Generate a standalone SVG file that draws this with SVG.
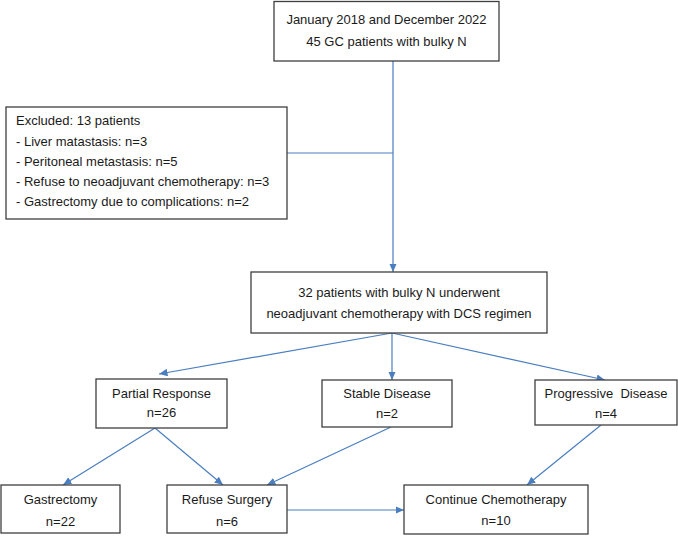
<svg xmlns="http://www.w3.org/2000/svg" width="678" height="536" viewBox="0 0 678 536">
<style>
.box{fill:#ffffff;stroke:#3f3f3f;stroke-width:1.3}
.t{font-family:"Liberation Sans",Arial,sans-serif;font-size:13px;fill:#1a1a1a;text-anchor:middle}
.tl{font-family:"Liberation Sans",Arial,sans-serif;font-size:13px;fill:#1a1a1a;text-anchor:start}
.c{fill:none;stroke:#4a7ebf;stroke-width:1.2}
</style>
<defs>
<marker id="ah" markerUnits="userSpaceOnUse" markerWidth="9" markerHeight="8" refX="8.5" refY="3.75" orient="auto">
<path d="M0,0 L8.5,3.75 L0,7.5 z" fill="#4a7ebf"/>
</marker>
</defs>
<rect width="678" height="536" fill="#ffffff"/>
<g id="connectors">
<line class="c" x1="393" y1="61" x2="393" y2="272" marker-end="url(#ah)"/>
<line class="c" x1="287" y1="153" x2="393" y2="153"/>
<line class="c" x1="392" y1="333" x2="159" y2="374" marker-end="url(#ah)"/>
<line class="c" x1="392" y1="333" x2="392" y2="380" marker-end="url(#ah)"/>
<line class="c" x1="392" y1="333" x2="605" y2="380" marker-end="url(#ah)"/>
<line class="c" x1="155" y1="428" x2="63" y2="485" marker-end="url(#ah)"/>
<line class="c" x1="155" y1="428" x2="223" y2="485" marker-end="url(#ah)"/>
<line class="c" x1="391" y1="427" x2="267" y2="485" marker-end="url(#ah)"/>
<line class="c" x1="601" y1="425" x2="527" y2="485" marker-end="url(#ah)"/>
<line class="c" x1="287" y1="510" x2="404" y2="510" marker-end="url(#ah)"/>
</g>
<g id="start">
<rect class="box" x="274" y="1.5" width="225" height="59.5"/>
<text class="t" x="386.5" y="24">January 2018 and December 2022</text>
<text class="t" x="386.5" y="46">45 GC patients with bulky N</text>
</g>
<g id="excluded">
<rect class="box" x="6" y="107" width="281" height="112"/>
<text class="tl" x="16" y="125">Excluded: 13 patients</text>
<text class="tl" x="16" y="146">- Liver matastasis: n=3</text>
<text class="tl" x="16" y="166">- Peritoneal metastasis: n=5</text>
<text class="tl" x="16" y="186">- Refuse to neoadjuvant chemotherapy: n=3</text>
<text class="tl" x="16" y="206">- Gastrectomy due to complications: n=2</text>
</g>
<g id="neoadjuvant">
<rect class="box" x="251" y="272" width="296" height="61"/>
<text class="t" x="399" y="297">32 patients with bulky N underwent</text>
<text class="t" x="399" y="318">neoadjuvant chemotherapy with DCS regimen</text>
</g>
<g id="partial">
<rect class="box" x="96" y="379" width="131" height="49"/>
<text class="t" x="161.5" y="398">Partial Response</text>
<text class="t" x="161.5" y="417">n=26</text>
</g>
<g id="stable">
<rect class="box" x="322" y="380" width="130" height="47"/>
<text class="t" x="387" y="398">Stable Disease</text>
<text class="t" x="387" y="418">n=2</text>
</g>
<g id="progressive">
<rect class="box" x="535" y="380" width="142" height="45"/>
<text class="t" x="606" y="398" xml:space="preserve">Progressive  Disease</text>
<text class="t" x="606" y="418">n=4</text>
</g>
<g id="gastrectomy">
<rect class="box" x="1" y="485" width="119" height="48"/>
<text class="t" x="60.5" y="504">Gastrectomy</text>
<text class="t" x="60.5" y="526">n=22</text>
</g>
<g id="refuse">
<rect class="box" x="167" y="485" width="120" height="48"/>
<text class="t" x="227" y="504">Refuse Surgery</text>
<text class="t" x="227" y="526">n=6</text>
</g>
<g id="continue">
<rect class="box" x="404" y="485" width="184" height="49"/>
<text class="t" x="496" y="504">Continue Chemotherapy</text>
<text class="t" x="496" y="525">n=10</text>
</g>
</svg>
